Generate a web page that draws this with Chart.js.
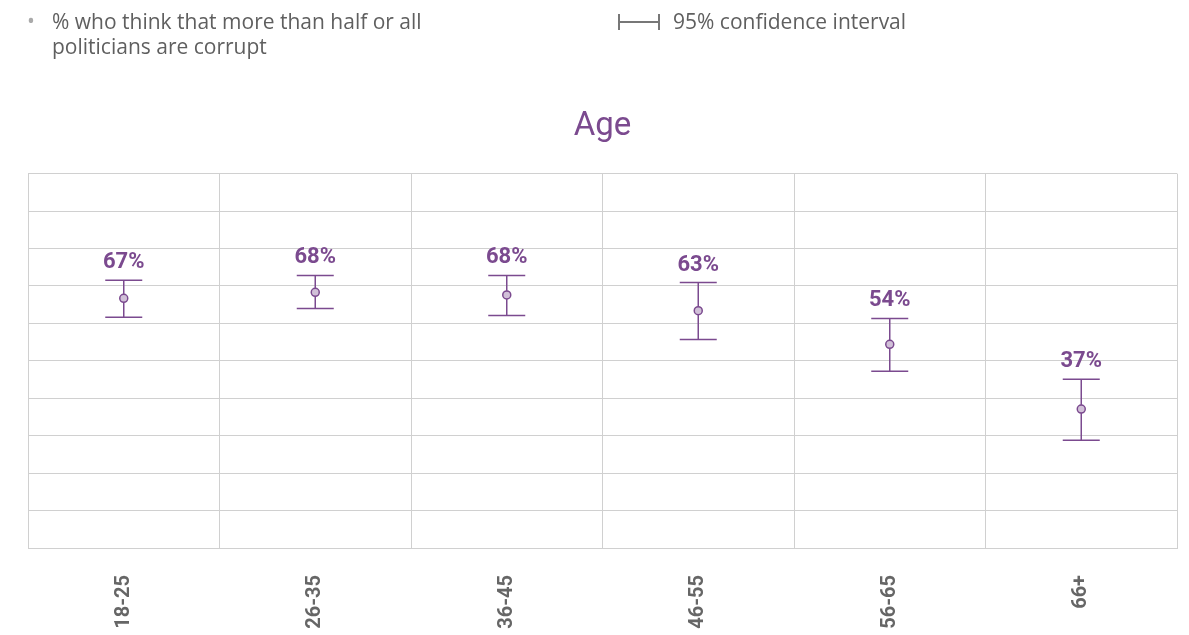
<!DOCTYPE html>
<html>
<head>
<meta charset="utf-8">
<script src="https://cdn.jsdelivr.net/npm/chart.js@4"></script>
<style>
  html, body { margin: 0; padding: 0; background: #fff; }
  #wrap { position: relative; width: 1189px; height: 635px; }
  #chart1 { position: absolute; left: 0; top: 0; }
  .leg { position: absolute; font-family: 'Open Sans', Lato, sans-serif; font-size: 21px; color: #5f5f5f; line-height: 25px; white-space: nowrap; }
  .ci { position: absolute; left: 618px; top: 14px; width: 42px; height: 16px; }
  .ci .bar { position: absolute; top: 0; width: 2px; height: 16px; background: #777; }
  .ci .ln { position: absolute; left: 2px; right: 2px; top: 7px; height: 1.5px; background: #777; }
</style>
</head>
<body>
<div id="wrap">
  <canvas id="chart1" width="1189" height="635"></canvas>
  <div class="leg" style="left:27px; top:8px; color:#aaa;">&bull;</div>
  <div class="leg" style="left:52px; top:9px;">% who think that more than half or all<br>politicians are corrupt</div>
  <div class="ci"><span class="bar" style="left:0"></span><span class="ln"></span><span class="bar" style="right:0"></span></div>
  <div class="leg" style="left:673px; top:9px;">95% confidence interval</div>
</div>
<script>
var ageGroups = ["18-25", "26-35", "36-45", "46-55", "56-65", "66+"];
var corruptPct = [66.7, 68.3, 67.6, 63.4, 54.4, 37.1];
var ciLower = [61.6, 64.0, 62.1, 55.7, 47.2, 28.8];
var ciUpper = [71.5, 72.8, 72.8, 70.9, 61.3, 45.1];

var purple = '#7b4a8f';

// error bars + value labels
var errorBars = {
    id: 'errorBars',
    afterDatasetsDraw: function(chart) {
        var c = chart.ctx, xs = chart.scales.x, ys = chart.scales.y;
        c.save();
        c.strokeStyle = purple;
        c.lineWidth = 1.5;
        for (var i = 0; i < ageGroups.length; i++) {
            var x = xs.getPixelForValue(i);
            var yt = ys.getPixelForValue(ciUpper[i]);
            var yb = ys.getPixelForValue(ciLower[i]);
            var yp = ys.getPixelForValue(corruptPct[i]);
            c.beginPath();
            c.moveTo(x, yt); c.lineTo(x, yp - 4);
            c.moveTo(x, yp + 4); c.lineTo(x, yb);
            c.moveTo(x - 18.5, yt); c.lineTo(x + 18.5, yt);
            c.moveTo(x - 18.5, yb); c.lineTo(x + 18.5, yb);
            c.stroke();
            c.fillStyle = purple;
            c.font = 'bold 22px Roboto';
            c.textAlign = 'center';
            c.textBaseline = 'alphabetic';
            c.fillText(Math.round(corruptPct[i]) + '%', x, yt - 12);
        }
        c.restore();
    }
};

var ctx = document.getElementById("chart1").getContext('2d');
var chart = new Chart(ctx, {
    type: 'line',
    data: {
        labels: ageGroups,
        datasets: [{
            data: corruptPct,
            showLine: false,
            pointRadius: 4,
            pointBorderWidth: 1.5,
            pointBorderColor: purple,
            pointBackgroundColor: 'rgba(123,74,143,0.35)'
        }]
    },
    options: {
        responsive: false,
        animation: false,
        layout: {
            padding: { left: 28, right: 12, top: 107, bottom: 3 }
        },
        plugins: {
            legend: { display: false },
            tooltip: { enabled: false },
            title: {
                display: true,
                text: 'Age',
                color: purple,
                font: { family: 'Roboto', size: 33, weight: 'normal' },
                padding: { top: 0, bottom: 27 }
            }
        },
        scales: {
            x: {
                offset: true,
                afterFit: function(scale) { scale.height = 84; },
                grid: { offset: true, color: '#d0d0d0', drawTicks: false },
                border: { color: '#d0d0d0' },
                ticks: {
                    minRotation: 90, maxRotation: 90,
                    padding: 27,
                    color: '#666',
                    font: { family: 'Roboto', size: 20, weight: 'bold' }
                }
            },
            y: {
                min: 0, max: 100,
                grid: { color: '#d0d0d0', drawTicks: false },
                border: { color: '#d0d0d0' },
                ticks: { display: false, stepSize: 10 }
            }
        }
    },
    plugins: [errorBars]
});
</script>
</body>
</html>
